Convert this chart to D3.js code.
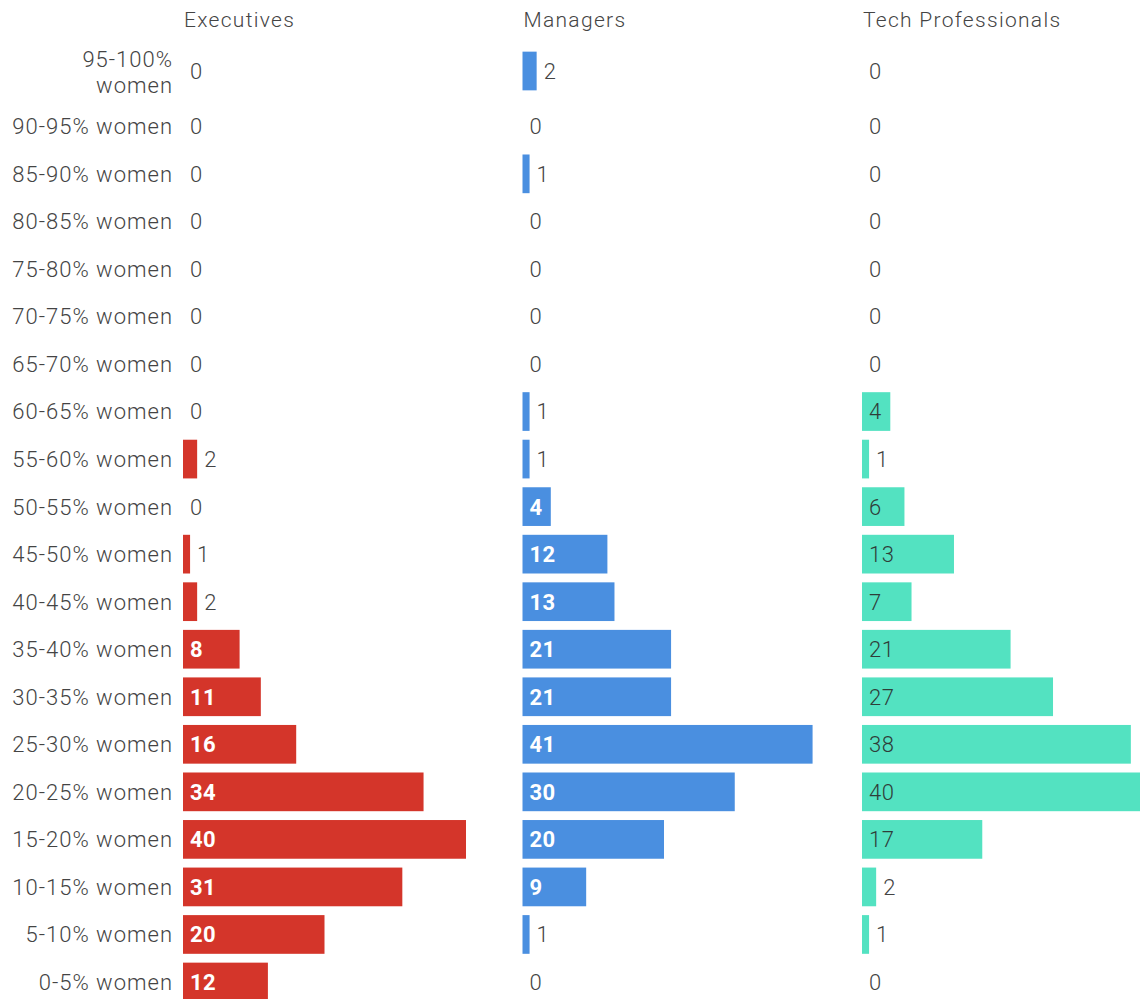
<!DOCTYPE html>
<html><head><meta charset="utf-8">
<script src="https://cdn.jsdelivr.net/npm/d3@7"></script>
<style>
body{margin:0;background:#fff}
text{font-family:Roboto,"Noto Sans",sans-serif}
</style>
</head><body>
<svg id="c" width="1140" height="999"></svg>
<script>
const categories = ["95-100% women","90-95% women","85-90% women","80-85% women","75-80% women",
  "70-75% women","65-70% women","60-65% women","55-60% women","50-55% women","45-50% women",
  "40-45% women","35-40% women","30-35% women","25-30% women","20-25% women","15-20% women",
  "10-15% women","5-10% women","0-5% women"];
const executives        = [0,0,0,0,0,0,0,0,2,0,1,2,8,11,16,34,40,31,20,12];
const managers          = [2,0,1,0,0,0,0,1,1,4,12,13,21,21,41,30,20,9,1,0];
const techProfessionals = [0,0,0,0,0,0,0,4,1,6,13,7,21,27,38,40,17,2,1,0];
const seriesNames  = ["Executives","Managers","Tech Professionals"];
const seriesColors = ["#d4352a","#4a8fe0","#53e2c1"];
const insideColors = ["#ffffff","#ffffff","#2f3d39"];
const insideWeight = ["bold","bold","300"];
const seriesValues = [executives, managers, techProfessionals];

const svg = d3.select("#c");
const col = d3.scaleBand().domain(seriesNames).range([183, 183 + 3*339.5]).padding(0);
const x = d3.scaleLinear().domain([0, 40]).range([0, 283]);
const yIdx = d3.scaleLinear().domain([0, 1, 19]).range([71, 126.3, 982]);
const barH = 38.7;

const labelColor = "#444444";
const fs = 22, ls = 1;

// category labels
const lab = svg.append("g");
categories.forEach((c, i) => {
  const t = lab.append("text")
    .attr("x", 173).attr("y", yIdx(i))
    .attr("text-anchor", "end")
    .style("font-size", fs + "px").style("letter-spacing", ls + "px")
    .style("font-weight", "300")
    .attr("fill", labelColor);
  t.text(c);
  if (t.node().getComputedTextLength() > 165) {
    t.text(null);
    const words = c.split(" ");
    t.append("tspan").attr("x", 173).attr("dy", "-0.2em").text(words[0]);
    t.append("tspan").attr("x", 173).attr("dy", "1.21em").text(words.slice(1).join(" "));
  } else {
    t.attr("dy", "0.36em");
  }
});

seriesNames.forEach((name, s) => {
  const g = svg.append("g").attr("transform", `translate(${col(name)},0)`);
  g.append("text").attr("x", 1).attr("y", 27)
    .style("font-size", "21px").style("letter-spacing", "1.3px")
    .style("font-weight", "300")
    .attr("fill", labelColor).text(name);
  const vals = seriesValues[s];
  g.selectAll("rect").data(vals).join("rect")
    .attr("x", 0)
    .attr("y", (d, i) => yIdx(i) - barH / 2)
    .attr("width", d => x(d))
    .attr("height", barH)
    .attr("fill", seriesColors[s]);
  vals.forEach((d, i) => {
    const t = g.append("text")
      .attr("y", yIdx(i)).attr("dy", "0.36em")
      .style("font-size", fs + "px").style("letter-spacing", "0.5px")
      .text(d);
    const w = t.node().getComputedTextLength();
    const bw = x(d);
    if (bw >= w + 14) {
      t.attr("x", 7).attr("fill", insideColors[s]).style("font-weight", insideWeight[s]);
    } else {
      t.attr("x", bw + 7).attr("fill", labelColor).style("font-weight", "300");
    }
  });
});
</script>
</body></html>
